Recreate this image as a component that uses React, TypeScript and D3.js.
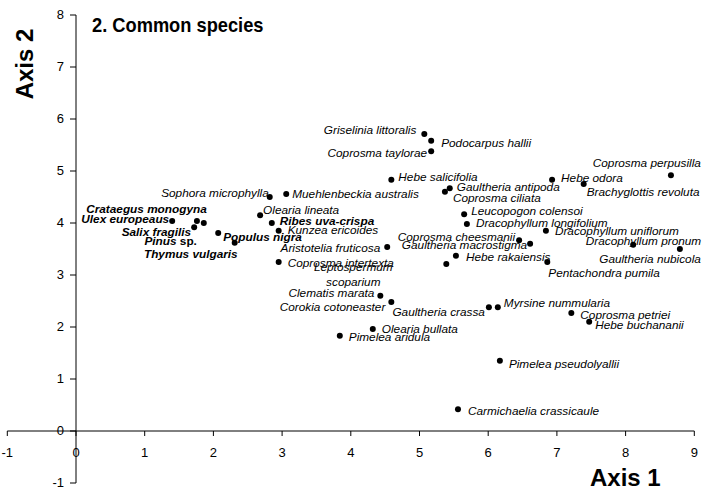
import React from 'react';
import * as d3 from 'd3';

// species scores on the first two ordination axes
const species = [
  'Griselinia littoralis', 'Podocarpus hallii', 'Coprosma taylorae', 'Hebe salicifolia',
  'Muehlenbeckia australis', 'Sophora microphylla', 'Gaultheria antipoda', 'Coprosma ciliata',
  'Leucopogon colensoi', 'Dracophyllum longifolium', 'Hebe odora', 'Brachyglottis revoluta',
  'Coprosma perpusilla', 'Dracophyllum uniflorum', 'Coprosma cheesmanii', 'Gaultheria macrostigma',
  'Dracophyllum pronum', 'Gaultheria nubicola', 'Hebe rakaiensis', 'Pentachondra pumila',
  'Leptospermum scoparium', 'Aristotelia fruticosa', 'Coprosma intertexta', 'Clematis marata',
  'Corokia cotoneaster', 'Gaultheria crassa', 'Myrsine nummularia', 'Olearia bullata',
  'Pimelea aridula', 'Pimelea pseudolyallii', 'Carmichaelia crassicaule', 'Coprosma petriei',
  'Hebe buchananii', 'Olearia lineata', 'Ribes uva-crispa', 'Kunzea ericoides',
  'Ulex europeaus', 'Crataegus monogyna', 'Salix fragilis', 'Pinus sp.',
  'Populus nigra', 'Thymus vulgaris',
];
const axis1 = [
  5.07, 5.17, 5.17, 4.59,
  3.06, 2.82, 5.44, 5.37,
  5.65, 5.69, 6.93, 7.39,
  8.66, 6.84, 6.45, 6.61,
  8.11, 8.79, 5.53, 6.86,
  5.39, 4.53, 2.95, 4.43,
  4.59, 6.01, 6.14, 4.32,
  3.84, 6.17, 5.56, 7.21,
  7.47, 2.68, 2.85, 2.95,
  1.40, 1.86, 1.72, 1.76,
  2.07, 2.31,
];
const axis2 = [
  5.71, 5.58, 5.38, 4.83,
  4.56, 4.50, 4.67, 4.60,
  4.17, 3.98, 4.83, 4.75,
  4.92, 3.85, 3.67, 3.60,
  3.58, 3.50, 3.37, 3.25,
  3.21, 3.54, 3.25, 2.60,
  2.48, 2.38, 2.38, 1.96,
  1.83, 1.35, 0.42, 2.27,
  2.10, 4.15, 4.00, 3.85,
  4.04, 4.00, 3.92, 4.04,
  3.81, 3.62,
];
// introduced species are printed in bold
const introduced = [
  'Ribes uva-crispa', 'Ulex europeaus', 'Crataegus monogyna', 'Salix fragilis',
  'Pinus sp.', 'Populus nigra', 'Thymus vulgaris',
];
const xTicks = [-1, 0, 1, 2, 3, 4, 5, 6, 7, 8, 9];
const yTicks = [-1, 0, 1, 2, 3, 4, 5, 6, 7, 8];

// label placement: anchor, dx, dy (to text centre)
const labelPos: Record<string, [string, number, number]> = {
  'Griselinia littoralis': ['end', -8, -4],
  'Podocarpus hallii': ['start', 10, 2],
  'Coprosma taylorae': ['end', -4, 2],
  'Hebe salicifolia': ['start', 7, -3],
  'Muehlenbeckia australis': ['start', 6, 0],
  'Sophora microphylla': ['end', -1, -4],
  'Gaultheria antipoda': ['start', 7, -1],
  'Coprosma ciliata': ['start', 8, 6],
  'Leucopogon colensoi': ['start', 7, -3],
  'Dracophyllum longifolium': ['start', 9, -1],
  'Hebe odora': ['start', 9, -2],
  'Brachyglottis revoluta': ['start', 3, 8],
  'Coprosma perpusilla': ['end', 30, -12],
  'Dracophyllum uniflorum': ['start', 9, 0],
  'Coprosma cheesmanii': ['end', -4, -3],
  'Gaultheria macrostigma': ['end', -3, 1],
  'Dracophyllum pronum': ['end', 68, -4],
  'Gaultheria nubicola': ['end', 21, 10],
  'Hebe rakaiensis': ['start', 10, 1],
  'Pentachondra pumila': ['start', 1, 11],
  'Leptospermum scoparium': ['middle', -93, 3],
  'Aristotelia fruticosa': ['end', -7, 1],
  'Coprosma intertexta': ['start', 9, 1],
  'Clematis marata': ['end', -6, -3],
  'Corokia cotoneaster': ['end', -6, 5],
  'Gaultheria crassa': ['end', -4, 5],
  'Myrsine nummularia': ['start', 6, -4],
  'Olearia bullata': ['start', 9, 0],
  'Pimelea aridula': ['start', 9, 1],
  'Pimelea pseudolyallii': ['start', 9, 3],
  'Carmichaelia crassicaule': ['start', 10, 2],
  'Coprosma petriei': ['start', 9, 2],
  'Hebe buchananii': ['start', 6, 3],
  'Olearia lineata': ['start', 3, -5],
  'Ribes uva-crispa': ['start', 8, -2],
  'Kunzea ericoides': ['start', 9, -1],
  'Ulex europeaus': ['end', -3, -2],
  'Crataegus monogyna': ['end', 3, -14],
  'Salix fragilis': ['end', -3, 5],
  'Pinus sp.': ['end', 0, 20],
  'Populus nigra': ['start', 5, 4],
  'Thymus vulgaris': ['end', 3, 11],
};

const W = 707;
const H = 488;
const FONT = '"Liberation Sans", Arial, sans-serif';

const App = () => {
  const x = d3.scaleLinear().domain([-1, 9]).range([7.3, 694.3]);
  const y = d3.scaleLinear().domain([-1, 8]).range([483, 15]);

  const points = species.map((name, i) => ({
    name,
    a1: axis1[i],
    a2: axis2[i],
    bold: introduced.includes(name),
  }));

  const renderLabel = (d: any) => {
    const [anchor, dx, dy] = labelPos[d.name] || ['start', 8, 0];
    const px = x(d.a1) + dx;
    const py = y(d.a2) + dy;
    const common = {
      x: px,
      textAnchor: anchor as any,
      dominantBaseline: 'central' as any,
      fontSize: 11.8,
      fontStyle: 'italic',
      fontWeight: d.bold ? 'bold' : 'normal',
    };
    if (d.name === 'Leptospermum scoparium') {
      const parts = d.name.split(' ');
      return (
        <g key={d.name}>
          <text {...common} y={py}>{parts[0]}</text>
          <text {...common} y={py + 15}>{parts[1]}</text>
        </g>
      );
    }
    if (d.name.endsWith(' sp.')) {
      return (
        <text key={d.name} {...common} y={py}>
          {d.name.replace(' sp.', '')}
          <tspan fontStyle="normal"> sp.</tspan>
        </text>
      );
    }
    return <text key={d.name} {...common} y={py}>{d.name}</text>;
  };

  return (
    <svg width={W} height={H} style={{ position: 'absolute', left: 0, top: 0, background: '#fff' }} fontFamily={FONT}>
      <rect width={W} height={H} fill="#fff" />

      {/* x axis */}
      <line x1={x(-1)} x2={x(9)} y1={y(0)} y2={y(0)} stroke="#000" />
      {xTicks.map(t => (
        <g key={'xt' + t} transform={`translate(${x(t)},${y(0)})`}>
          <line y1={0} y2={5} stroke="#000" />
          <text y={21} textAnchor="middle" dominantBaseline="central" fontSize={13}>{t}</text>
        </g>
      ))}

      {/* y axis */}
      <line x1={x(0)} x2={x(0)} y1={y(8)} y2={y(-1)} stroke="#000" />
      {yTicks.map(t => (
        <g key={'yt' + t} transform={`translate(${x(0)},${y(t)})`}>
          <line x1={-6} x2={0} stroke="#000" />
          <text x={-12} y={-1} textAnchor="end" dominantBaseline="central" fontSize={13}>{t}</text>
        </g>
      ))}

      {/* points */}
      {points.map(d => (
        <circle key={'p' + d.name} cx={x(d.a1)} cy={y(d.a2)} r={3} fill="#000" />
      ))}
      {points.map(renderLabel)}

      {/* titles */}
      <text transform="translate(92,32) scale(0.87,1)" fontSize={21} fontWeight="bold">2. Common species</text>
      <text transform="translate(33,64) rotate(-90)" textAnchor="middle" fontSize={24} fontWeight="bold">Axis 2</text>
      <text x={590} y={486} fontSize={24} fontWeight="bold">Axis 1</text>
    </svg>
  );
};

export default App;
